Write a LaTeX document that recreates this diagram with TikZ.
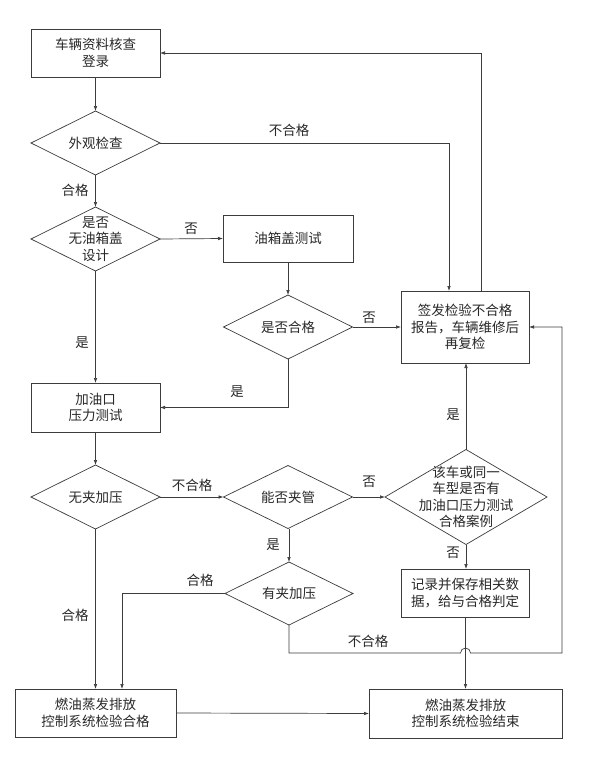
\documentclass[tikz,border=0pt]{standalone}
\usepackage{fontspec}
\setmainfont{Noto Sans CJK SC}
\usetikzlibrary{shapes.geometric,arrows.meta}
\definecolor{lc}{RGB}{60,60,60}
\definecolor{tc}{RGB}{40,40,40}
\newcommand{\fsz}{\fontsize{13.5bp}{16.5bp}\selectfont}
\begin{document}
\begin{tikzpicture}[x=1bp,y=-1bp,
  box/.style={draw=lc, line width=0.7bp, rectangle, inner sep=0pt, outer sep=0pt, align=center, font=\fsz, text=tc},
  dia/.style={draw=lc, line width=0.7bp, diamond, inner sep=0pt, outer sep=0pt},
  dtext/.style={font=\fsz, text=tc, align=center, inner sep=0pt},
  lab/.style={font=\fsz, text=tc, inner sep=0pt},
  arr/.style={draw=lc, line width=0.7bp, -{Latex[length=5bp,width=3.6bp]}},
  ln/.style={draw=lc, line width=0.7bp}]
\useasboundingbox[fill=white] (0,0) rectangle (593,759);

% boxes
\node[box, minimum width=129bp, minimum height=48bp] (b1) at (95.5,53) {车辆资料核查\\登录};
\node[box, minimum width=130bp, minimum height=47bp] (b2) at (288,238.5) {油箱盖测试};
\node[box, minimum width=128bp, minimum height=72bp] (b3) at (465,327) {签发检验不合格\\报告，车辆维修后\\再复检};
\node[box, minimum width=129bp, minimum height=49bp] (b4) at (95.5,407.5) {加油口\\压力测试};
\node[box, minimum width=128bp, minimum height=48bp] (b5) at (465,593) {记录并保存相关数\\据，给与合格判定};
\node[box, minimum width=161bp, minimum height=48bp] (b6) at (95.5,713) {燃油蒸发排放\\控制系统检验合格};
\node[box, minimum width=193bp, minimum height=49bp] (b7) at (465.5,713.5) {燃油蒸发排放\\控制系统检验结束};

% diamonds
\node[dia, minimum width=129bp, minimum height=64bp, label={[dtext]center:外观检查}] (d1) at (95.5,143) {};
\node[dia, minimum width=129bp, minimum height=64bp, label={[dtext]center:是否\\无油箱盖\\设计}] (d2) at (95.5,239) {};
\node[dia, minimum width=129bp, minimum height=64bp, label={[dtext]center:是否合格}] (d3) at (288,327) {};
\node[dia, minimum width=129bp, minimum height=64bp, label={[dtext]center:无夹加压}] (d4) at (95.5,497) {};
\node[dia, minimum width=129bp, minimum height=63bp, label={[dtext]center:能否夹管}] (d5) at (288,497) {};
\node[dia, minimum width=162bp, minimum height=95bp, label={[dtext]center:该车或同一\\车型是否有\\加油口压力测试\\合格案例}] (d6) at (466,497) {};
\node[dia, minimum width=128bp, minimum height=63bp, label={[dtext]center:有夹加压}] (d7) at (289,593.5) {};

% connectors
\draw[arr] (b1.south) -- (d1.north);
\draw[arr] (d1.south) -- (d2.north);
\draw[arr] (d1.east) -| ([xshift=-16bp]b3.north);
\draw[arr] ([xshift=16bp]b3.north) |- (b1.east);
\draw[arr] (d2.east) -- (b2.west);
\draw[arr] (d2.south) -- (b4.north);
\draw[arr] (b2.south) -- (d3.north);
\draw[arr] (d3.east) -- (b3.west);
\draw[arr] (d3.south) |- (b4.east);
\draw[arr] (b4.south) -- (d4.north);
\draw[arr] (d4.east) -- (d5.west);
\draw[arr] (d4.south) -- (b6.north);
\draw[arr] (d5.east) -- (d6.west);
\draw[arr] (d5.south -| d7.north) -- (d7.north);
\draw[arr] (d6.north) -- (d6.north |- b3.south);
\draw[arr] (d6.south) -- (d6.south |- b5.north);
\draw[arr] (d7.west) -| ([xshift=26.5bp]b6.north);
\draw[arr] (d7.south) -- (289,653) -- (460.5,653) arc[start angle=180, end angle=0, radius=5bp] -- (562,653) |- (b3.east);
\draw[arr] (b5.south -| b7.north) -- (b7.north);
\draw[arr] (b6.east) -- (b7.west);

% labels
\node[lab] (l1) at (289,130) {不合格};
\node[lab] (l2) at (75,190) {合格};
\node[lab] (l3) at (191,229) {否};
\node[lab] (l4) at (82,343) {是};
\node[lab] (l5) at (369,318) {否};
\node[lab] (l6) at (237,392) {是};
\node[lab] (l7) at (453,415) {是};
\node[lab] (l8) at (192,485) {不合格};
\node[lab] (l9) at (369,482) {否};
\node[lab] (l10) at (273,545) {是};
\node[lab] (l11) at (453,553) {否};
\node[lab] (l12) at (200,580) {合格};
\node[lab] (l13) at (75,615) {合格};
\node[lab] (l14) at (368,641) {不合格};
\end{tikzpicture}
\end{document}
